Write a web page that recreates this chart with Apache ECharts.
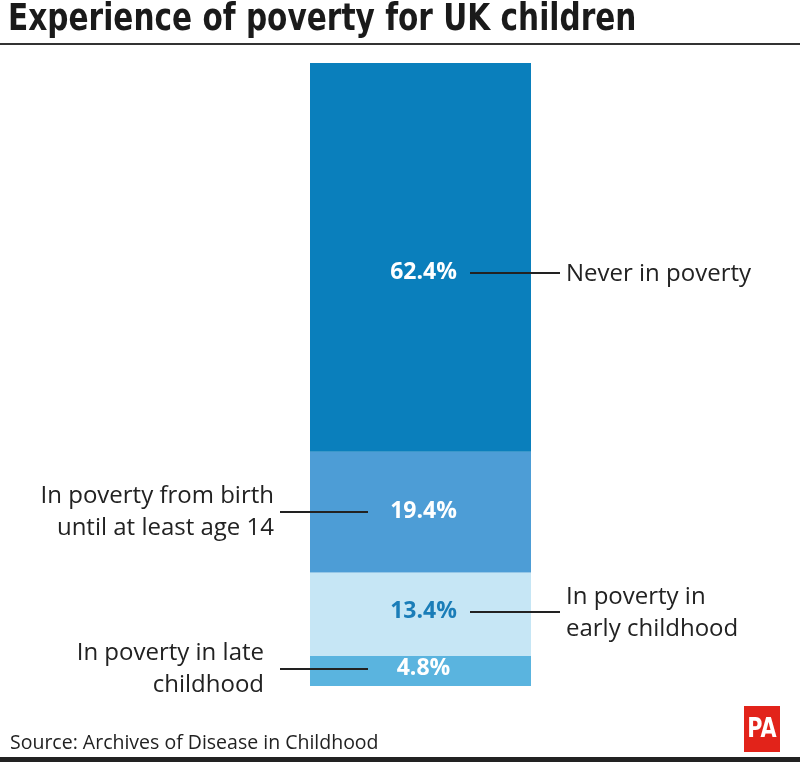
<!DOCTYPE html>
<html>
<head>
<meta charset="utf-8">
<script src="https://cdn.jsdelivr.net/npm/echarts@6/dist/echarts.min.js"></script>
<style>
  html, body { margin: 0; padding: 0; background: #fff; }
  #container { width: 800px; height: 762px; }
</style>
</head>
<body>
<div id="container"></div>
<script>
// segments from bottom to top
var categories = ['In poverty in late\nchildhood', 'In poverty in\nearly childhood', 'In poverty from birth\nuntil at least age 14', 'Never in poverty'];
var values = [4.8, 13.4, 19.4, 62.4];
var colors = ['#5ab4df', '#c6e6f5', '#4d9dd6', '#0a7fbc'];
var labelColors = ['#ffffff', '#1a7db8', '#ffffff', '#ffffff'];
var labelSide = ['left', 'right', 'left', 'right'];
var labelShift = [-3, -3, -1, 15];
var leftTextX = [264, 0, 274, 0];

var dom = document.getElementById('container');
var myChart = echarts.init(dom, null, { renderer: 'canvas' });

var FONT = "'Open Sans', 'Noto Sans', sans-serif";
var BOLD = "'DejaVu Sans', sans-serif";

var series = values.map(function (v, i) {
  return {
    name: categories[i],
    type: 'bar',
    stack: 'total',
    barWidth: 221,
    data: [v],
    itemStyle: { color: colors[i] },
    label: {
      show: true,
      position: 'inside',
      offset: [3, labelShift[i]],
      color: labelColors[i],
      fontFamily: FONT,
      fontWeight: 'bold',
      fontSize: 23,
      formatter: function (p) { return p.value.toFixed(1) + '%'; }
    }
  };
});

var option = {
  animation: false,
  grid: { left: 310, right: 269, top: 63, bottom: 76 },
  xAxis: { type: 'category', data: ['UK children'], show: false },
  yAxis: { type: 'value', min: 0, max: 100, show: false },
  series: series
};
myChart.setOption(option);

// leader lines and outside labels, placed from the axis scale
var extra = [
  { type: 'text', x: 8, y: 20, scaleX: 0.80, z: 10,
    style: { text: 'Experience of poverty for UK children', fontFamily: BOLD,
      fontWeight: 'bold', fontSize: 37, fill: '#1a1a1a', verticalAlign: 'middle' } },
  { type: 'line', z: 10, shape: { x1: 0, y1: 44, x2: 800, y2: 44 }, style: { stroke: '#333', lineWidth: 2 } },
  { type: 'text', left: 10, top: 733, z: 10,
    style: { text: 'Source: Archives of Disease in Childhood', fontFamily: FONT, fontSize: 19.5, fill: '#222' } },
  { type: 'rect', z: 10, shape: { x: 744, y: 706, width: 36, height: 46 }, style: { fill: '#e2231a' } },
  { type: 'text', x: 762, y: 730, z: 11, scaleX: 0.8,
    style: { text: 'PA', fontFamily: BOLD, fontWeight: 'bold',
      fontSize: 26, fill: '#fff', align: 'center', verticalAlign: 'middle' } },
  { type: 'rect', z: 10, shape: { x: 0, y: 757, width: 800, height: 5 }, style: { fill: '#222' } }
];

var base = 0;
values.forEach(function (v, i) {
  var mid = myChart.convertToPixel({ gridIndex: 0 }, [0, base + v / 2]);
  var y = Math.round(mid[1] + labelShift[i] + 1);
  base += v;
  if (labelSide[i] === 'right') {
    extra.push({ type: 'line', z: 10, shape: { x1: 470, y1: y, x2: 560, y2: y }, style: { stroke: '#222', lineWidth: 1.8 } });
    extra.push({ type: 'text', x: 566, y: y + 1, z: 10,
      style: { text: categories[i], fontFamily: FONT, fontSize: 24, lineHeight: 32, fill: '#222', align: 'left', verticalAlign: 'middle' } });
  } else {
    extra.push({ type: 'line', z: 10, shape: { x1: 280, y1: y, x2: 368, y2: y }, style: { stroke: '#222', lineWidth: 1.8 } });
    extra.push({ type: 'text', x: leftTextX[i], y: y, z: 10,
      style: { text: categories[i], fontFamily: FONT, fontSize: 24, lineHeight: 32, fill: '#222', align: 'right', verticalAlign: 'middle' } });
  }
});

myChart.setOption({ graphic: extra });

window.addEventListener('resize', myChart.resize);
</script>
</body>
</html>
